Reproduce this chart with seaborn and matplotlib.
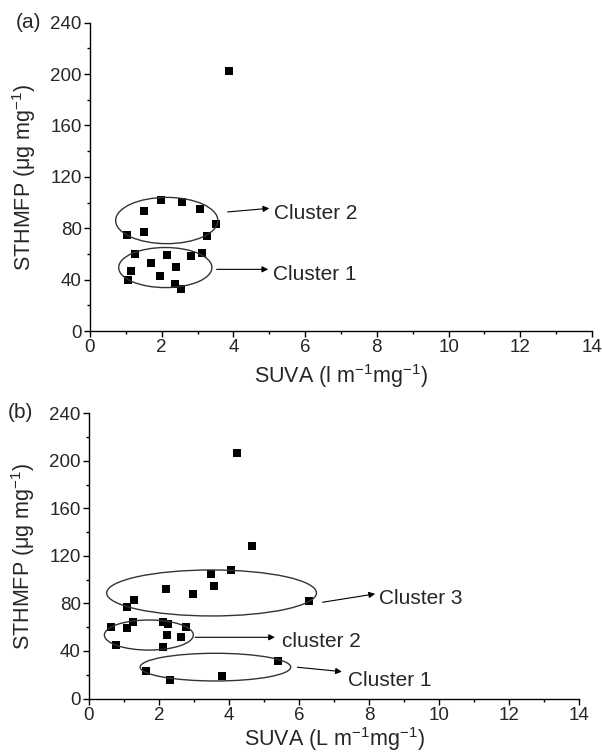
import matplotlib
matplotlib.use("Agg")
import matplotlib.pyplot as plt
from matplotlib.patches import Ellipse
from matplotlib.ticker import MultipleLocator
import seaborn as sns
import pandas as pd

# panel (a) data
suva_a = [3.88, 1.97, 2.56, 1.51, 3.07, 3.52, 1.51, 1.04, 3.25,
          1.25, 2.16, 2.82, 3.13, 1.69, 2.40, 1.14, 1.95, 1.05, 2.38, 2.54]
sthm_a = [202.6, 101.7, 100.7, 93.4, 94.7, 83.5, 77.3, 74.5, 73.7,
          59.7, 59.4, 58.6, 61.0, 52.9, 49.8, 46.7, 43.0, 39.5, 36.8, 32.5]

# panel (b) data
suva_b = [4.23, 4.65, 4.05, 3.48, 3.58, 2.21, 2.96, 1.29, 1.08, 6.29,
          0.63, 1.09, 1.27, 2.10, 2.26, 2.76, 2.22, 2.62, 0.77, 2.12,
          5.41, 1.62, 2.31, 3.80]
sthm_b = [206.8, 128.6, 107.9, 104.8, 94.9, 92.1, 88.2, 83.1, 77.0, 81.8,
          60.4, 59.6, 64.6, 64.1, 63.0, 60.2, 53.2, 51.5, 45.0, 43.1,
          31.8, 23.1, 15.3, 18.7]

labels_a = ["Cluster 2", "Cluster 1"]
labels_b = ["Cluster 3", "cluster 2", "Cluster 1"]

sns.set_style("ticks")
plt.rcParams['font.family'] = ['Liberation Sans', 'DejaVu Sans']
plt.rcParams['mathtext.fontset'] = 'custom'
plt.rcParams['mathtext.rm'] = 'Liberation Sans'
plt.rcParams['mathtext.it'] = 'Liberation Sans'

fig = plt.figure(figsize=(6.02, 7.54), dpi=100)
ax_a = fig.add_axes([0.1495, 0.5610, 0.8339, 0.4089])
ax_b = fig.add_axes([0.1478, 0.0736, 0.8145, 0.3783])

sns.scatterplot(data=pd.DataFrame({'x': suva_a, 'y': sthm_a}), x='x', y='y',
                marker='s', color='black', s=26, linewidth=0, ax=ax_a)
sns.scatterplot(data=pd.DataFrame({'x': suva_b, 'y': sthm_b}), x='x', y='y',
                marker='s', color='black', s=26, linewidth=0, ax=ax_b)


def arrow(ax, start, end):
    ax.annotate('', xy=end, xytext=start,
                arrowprops=dict(arrowstyle='-|>', color='black', lw=0.8,
                                mutation_scale=9, shrinkA=0, shrinkB=0))


# (a) clusters
ax_a.add_patch(Ellipse((2.14, 86.0), 2.85, 36.0, fill=False, ec='#333333', lw=1))
ax_a.add_patch(Ellipse((2.10, 49.4), 2.60, 31.2, fill=False, ec='#333333', lw=1))
arrow(ax_a, (3.84, 92.7), (5.00, 95.5))
arrow(ax_a, (3.53, 48.0), (4.97, 48.0))
ax_a.text(5.12, 91.6, labels_a[0], fontsize=15, va='center')
ax_a.text(5.09, 43.6, labels_a[1], fontsize=15, va='center')

# (b) clusters
ax_b.add_patch(Ellipse((3.50, 88.8), 5.99, 38.7, fill=False, ec='#333333', lw=1))
ax_b.add_patch(Ellipse((1.71, 53.4), 2.54, 25.3, fill=False, ec='#333333', lw=1))
ax_b.add_patch(Ellipse((3.61, 26.4), 4.30, 23.3, fill=False, ec='#333333', lw=1))
arrow(ax_b, (6.67, 81.0), (8.17, 88.0))
arrow(ax_b, (3.03, 51.5), (5.31, 51.5))
arrow(ax_b, (5.95, 26.3), (7.22, 22.6))
ax_b.text(8.28, 84.3, labels_b[0], fontsize=15, va='center')
ax_b.text(5.50, 47.8, labels_b[1], fontsize=15, va='center')
ax_b.text(7.40, 15.0, labels_b[2], fontsize=15, va='center')

for ax, unit, pad in [(ax_a, 'l', 4), (ax_b, 'L', 1)]:
    ax.set_xlim(0, 14)
    ax.set_ylim(0, 240)
    ax.xaxis.set_major_locator(MultipleLocator(2))
    ax.xaxis.set_minor_locator(MultipleLocator(1))
    ax.yaxis.set_major_locator(MultipleLocator(40))
    ax.yaxis.set_minor_locator(MultipleLocator(20))
    ax.tick_params(which='major', direction='out', length=4, width=1,
                   labelsize=13.5, pad=2, color='black')
    ax.tick_params(which='minor', direction='out', length=2.5, width=1,
                   color='black')
    for sp in ['top', 'right']:
        ax.spines[sp].set_visible(False)
    for sp in ['left', 'bottom']:
        ax.spines[sp].set_linewidth(1)
        ax.spines[sp].set_color('black')
    ax.set_xlabel('SUVA (%s m$^{\\mathregular{-1}}$mg$^{\\mathregular{-1}}$)' % unit,
                  fontsize=15.5, labelpad=pad)
    ax.set_ylabel('STHMFP (\u03bcg mg$^{\\mathregular{-1}}$)', fontsize=15.5,
                  labelpad=9)

fig.text(16 / 602, 1 - 22.7 / 754, '(a)', fontsize=15, va='center', ha='left')
fig.text(8 / 602, 1 - 412 / 754, '(b)', fontsize=15, va='center', ha='left')

fig.savefig('out.png', dpi=100)
